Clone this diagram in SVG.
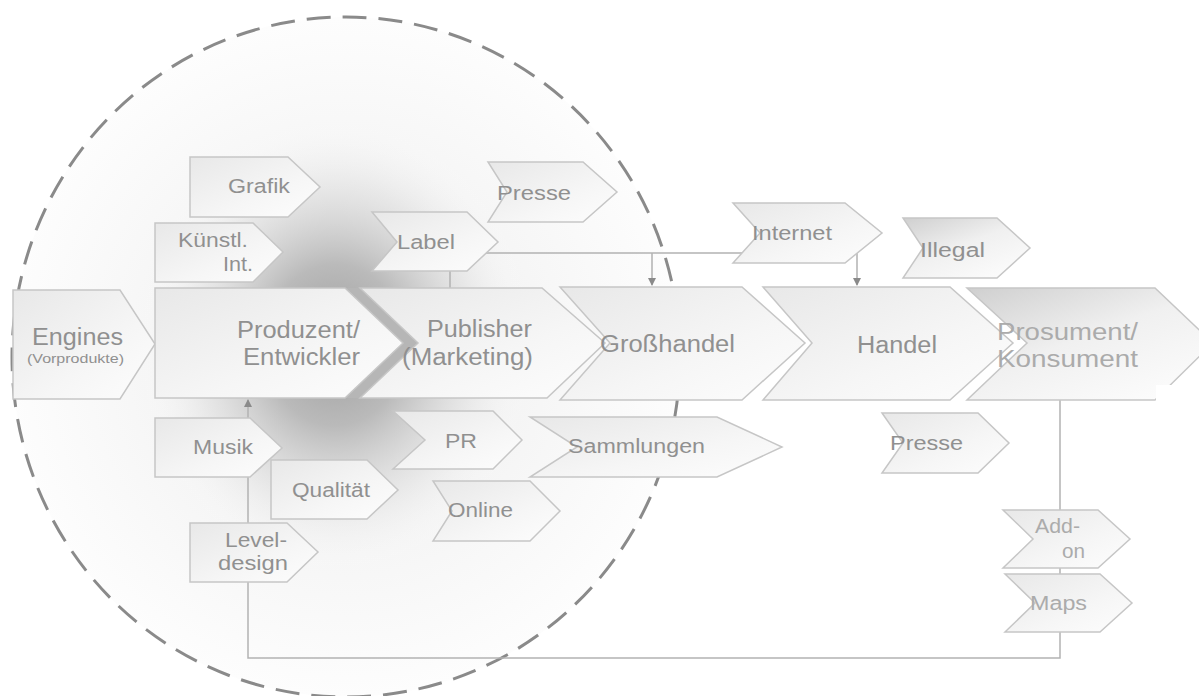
<svg xmlns="http://www.w3.org/2000/svg" width="1199" height="696" viewBox="0 0 1199 696">
<style>
.n{stroke:#c6c6c6;stroke-width:1.5;fill:url(#g)}
.nd{stroke:#c6c6c6;stroke-width:1.5;fill:url(#gd)}
.t{font-family:"Liberation Sans",Arial,sans-serif;fill:#909090}
.m{font-size:23px}
.s{font-size:20px}
.c{stroke:#b2b2b2;stroke-width:1.5;fill:none}
.lt{fill:#ababab}
</style>
<defs>
<linearGradient id="g" x1="0" y1="0" x2="1" y2="1">
<stop offset="0" stop-color="#e8e8e8"/>
<stop offset="0.6" stop-color="#f6f6f6"/>
<stop offset="1" stop-color="#fdfdfd"/>
</linearGradient>
<linearGradient id="gd" x1="0" y1="0" x2="0.8" y2="1">
<stop offset="0" stop-color="#cfcfcf"/>
<stop offset="0.5" stop-color="#f0f0f0"/>
<stop offset="1" stop-color="#fcfcfc"/>
</linearGradient>
<radialGradient id="bg" cx="346" cy="357" r="340" gradientUnits="userSpaceOnUse">
<stop offset="0" stop-color="#ececec"/>
<stop offset="1" stop-color="#fdfdfd"/>
</radialGradient>
<radialGradient id="glow" cx="0.5" cy="0.5" r="0.5">
<stop offset="0" stop-color="#9c9c9c" stop-opacity="1"/>
<stop offset="0.35" stop-color="#b4b4b4" stop-opacity="0.9"/>
<stop offset="0.7" stop-color="#dddddd" stop-opacity="0.5"/>
<stop offset="1" stop-color="#ffffff" stop-opacity="0"/>
</radialGradient>
<marker id="ah" markerWidth="8" markerHeight="8" refX="7" refY="4" orient="auto" markerUnits="userSpaceOnUse">
<path d="M0,0 L8,4 L0,8 Z" fill="#8a8a8a"/>
</marker>
</defs>
<rect width="1199" height="696" fill="#ffffff"/>
<g id="background">
<ellipse cx="346" cy="357" rx="334" ry="340" fill="url(#bg)"/>
<ellipse cx="335" cy="345" rx="200" ry="230" fill="url(#glow)"/>
<ellipse cx="346" cy="357" rx="334" ry="340" fill="none" stroke="#8a8a8a" stroke-width="3" stroke-dasharray="24 12"/>
<path d="M345,288 L360,288 L418,343 L360,398 L345,398 L403,343 Z" fill="#b6b6b6"/>
</g>
<g id="connectors">
<path class="c" d="M480,253 H857 V285" marker-end="url(#ah)"/>
<path class="c" d="M652,253 V285" marker-end="url(#ah)"/>
<path class="c" d="M450,271 V288"/>
<path class="c" d="M1060,400 V658 H248 V400" marker-end="url(#ah)"/>
</g>
<g id="engines"><path class="n" d="M13,290 H120 L155,344 L120,399 H13 Z"/>
<text class="t m" x="32" y="345" textLength="91" lengthAdjust="spacingAndGlyphs">Engines</text>
<text class="t" style="font-size:12px" x="27" y="363" textLength="97" lengthAdjust="spacingAndGlyphs">(Vorprodukte)</text></g>
<g id="produzent"><path class="n" d="M155,288 H345 L403,343 L345,398 H155 Z"/>
<text class="t m" x="237" y="338" textLength="123" lengthAdjust="spacingAndGlyphs">Produzent/</text>
<text class="t m" x="243" y="365" textLength="117" lengthAdjust="spacingAndGlyphs">Entwickler</text></g>
<g id="publisher"><path class="n" d="M360,288 H542 L605,343 L547,398 H360 L418,343 Z"/>
<text class="t m" x="427" y="337" textLength="105" lengthAdjust="spacingAndGlyphs">Publisher</text>
<text class="t m" x="402" y="365" textLength="131" lengthAdjust="spacingAndGlyphs">(Marketing)</text></g>
<g id="grosshandel"><path class="n" d="M560,287 H742 L805,343 L742,400 H560 L610,343 Z"/>
<text class="t m" x="600" y="352" textLength="135" lengthAdjust="spacingAndGlyphs">Großhandel</text></g>
<g id="handel"><path class="n" d="M763,287 H950 L1013,343 L950,400 H763 L812,343 Z"/>
<text class="t m" x="857" y="353" textLength="80" lengthAdjust="spacingAndGlyphs">Handel</text></g>
<g id="prosument"><path class="nd" d="M967,288 H1155 L1213,343 L1155,400 H967 L1027,343 Z"/>
<rect x="1156" y="385" width="45" height="18" fill="#ffffff"/>
<text class="t m lt" x="997" y="340" textLength="141" lengthAdjust="spacingAndGlyphs">Prosument/</text>
<text class="t m lt" x="997" y="367" textLength="141" lengthAdjust="spacingAndGlyphs">Konsument</text></g>
<g id="grafik"><path class="n" d="M190,157 H288 L320,187 L288,217 H190 Z"/>
<text class="t s" x="228" y="193" textLength="62" lengthAdjust="spacingAndGlyphs">Grafik</text></g>
<g id="kuenstl"><path class="n" d="M155,223 H253 L283,252 L253,282 H155 Z"/>
<text class="t s" x="178" y="247" textLength="70" lengthAdjust="spacingAndGlyphs">Künstl.</text>
<text class="t s" x="223" y="271" textLength="30" lengthAdjust="spacingAndGlyphs">Int.</text></g>
<g id="label"><path class="n" d="M372,212 H467 L498,242 L467,271 H372 L397,242 Z"/>
<text class="t s" x="397" y="249" textLength="58" lengthAdjust="spacingAndGlyphs">Label</text></g>
<g id="presse1"><path class="n" d="M488,162 H583 L617,192 L583,222 H488 L507,192 Z"/>
<text class="t s" x="497" y="200" textLength="74" lengthAdjust="spacingAndGlyphs">Presse</text></g>
<g id="internet"><path class="n" d="M733,203 H845 L882,233 L845,263 H733 L760,233 Z"/>
<text class="t s" x="752" y="240" textLength="80" lengthAdjust="spacingAndGlyphs">Internet</text></g>
<g id="illegal"><path class="nd" d="M903,218 H997 L1030,248 L997,278 H903 L923,248 Z"/>
<text class="t s" x="920" y="257" textLength="65" lengthAdjust="spacingAndGlyphs">Illegal</text></g>
<g id="musik"><path class="n" d="M155,418 H250 L282,448 L250,477 H155 Z"/>
<text class="t s" x="193" y="454" textLength="60" lengthAdjust="spacingAndGlyphs">Musik</text></g>
<g id="qualitaet"><path class="n" d="M271,460 H367 L398,490 L367,519 H271 Z"/>
<text class="t s" x="292" y="497" textLength="78" lengthAdjust="spacingAndGlyphs">Qualität</text></g>
<g id="pr"><path class="n" d="M393,411 H493 L522,440 L493,469 H393 L425,440 Z"/>
<text class="t s" x="445" y="448" textLength="32" lengthAdjust="spacingAndGlyphs">PR</text></g>
<g id="online"><path class="n" d="M433,481 H530 L560,511 L530,541 H433 L452,511 Z"/>
<text class="t s" x="448" y="517" textLength="65" lengthAdjust="spacingAndGlyphs">Online</text></g>
<g id="leveldesign"><path class="n" d="M190,523 H287 L318,552 L287,582 H190 Z"/>
<text class="t s" x="225" y="547" textLength="62" lengthAdjust="spacingAndGlyphs">Level-</text>
<text class="t s" x="218" y="570" textLength="70" lengthAdjust="spacingAndGlyphs">design</text></g>
<g id="sammlungen"><path class="n" d="M530,417 H717 L782,447 L717,477 H530 L577,447 Z"/>
<text class="t s" x="568" y="453" textLength="137" lengthAdjust="spacingAndGlyphs">Sammlungen</text></g>
<g id="presse2"><path class="n" d="M882,413 H978 L1009,443 L978,473 H882 L903,443 Z"/>
<text class="t s" x="890" y="450" textLength="73" lengthAdjust="spacingAndGlyphs">Presse</text></g>
<g id="addon"><path class="n" d="M1003,510 H1098 L1130,539 L1098,568 H1003 L1033,539 Z"/>
<text class="t s lt" x="1035" y="533" textLength="45" lengthAdjust="spacingAndGlyphs">Add-</text>
<text class="t s lt" x="1062" y="558" textLength="23" lengthAdjust="spacingAndGlyphs">on</text></g>
<g id="maps"><path class="n" d="M1005,574 H1100 L1132,603 L1100,632 H1005 L1035,603 Z"/>
<text class="t s lt" x="1030" y="610" textLength="57" lengthAdjust="spacingAndGlyphs">Maps</text></g>
</svg>
